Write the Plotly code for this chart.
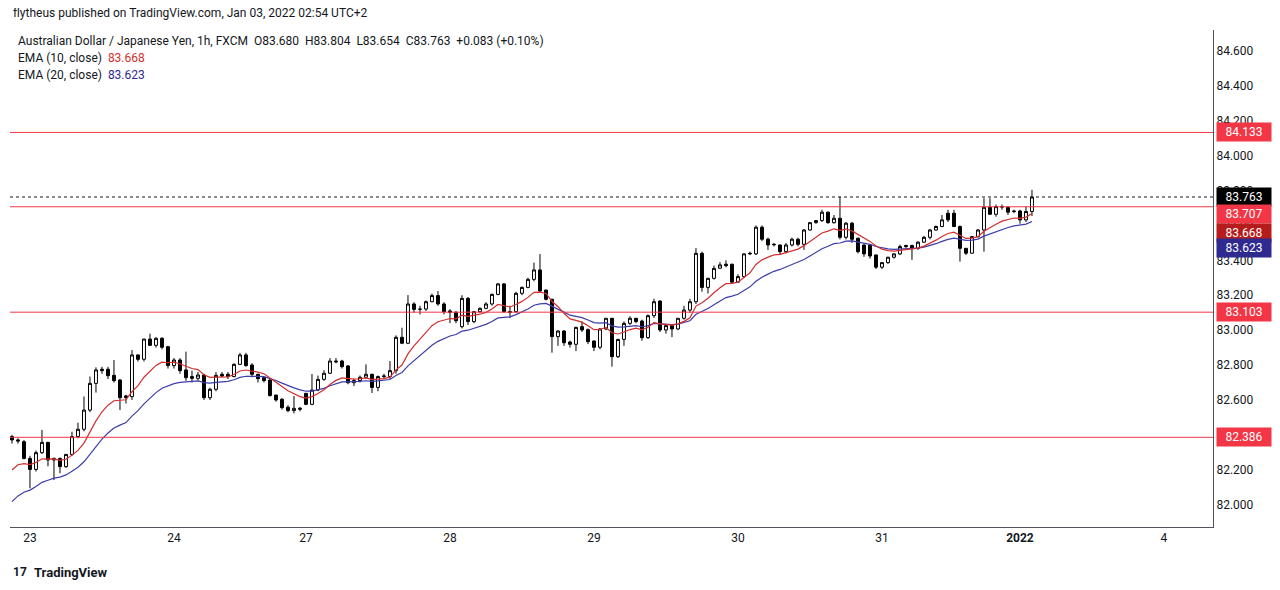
import plotly.graph_objects as go

opens = [82.390,82.371,82.361,82.265,82.202,82.298,82.357,82.256,82.265,82.218,82.288,82.390,82.432,82.542,82.695,82.776,82.776,82.741,82.714,82.623,
82.619,82.858,82.833,82.949,82.913,82.953,82.905,82.797,82.829,82.772,82.734,82.724,82.743,82.613,82.661,82.747,82.747,82.734,82.804,82.858,
82.800,82.747,82.728,82.714,82.628,82.604,82.558,82.539,82.546,82.638,82.575,82.657,82.718,82.753,82.823,82.823,82.795,82.699,82.711,82.730,
82.747,82.672,82.734,82.734,82.768,82.959,82.925,83.150,83.120,83.121,83.163,83.198,83.150,83.110,83.102,83.020,83.182,83.049,83.106,83.125,
83.150,83.205,83.265,83.106,83.106,83.211,83.245,83.291,83.345,83.230,83.177,82.963,82.995,82.932,82.919,83.020,83.003,82.938,82.902,83.007,
83.068,82.848,82.947,83.039,83.068,83.052,82.957,83.083,83.167,83.001,83.026,83.007,83.068,83.115,83.163,83.440,83.245,83.297,83.355,83.378,
83.378,83.275,83.307,83.437,83.437,83.590,83.521,83.492,83.488,83.450,83.488,83.521,83.492,83.574,83.616,83.628,83.676,83.616,83.641,83.532,
83.613,83.527,83.488,83.488,83.431,83.361,83.387,83.418,83.437,83.485,83.485,83.469,83.504,83.532,83.574,83.594,83.670,83.670,83.594,83.469,
83.441,83.536,83.574,83.704,83.664,83.708,83.704,83.683,83.683,83.632,83.680]
closes = [82.371,82.365,82.265,82.202,82.298,82.357,82.256,82.265,82.218,82.288,82.390,82.432,82.542,82.695,82.772,82.768,82.739,82.711,82.613,82.613,
82.858,82.833,82.949,82.913,82.953,82.902,82.797,82.829,82.768,82.728,82.724,82.743,82.613,82.661,82.741,82.737,82.734,82.804,82.858,82.797,
82.747,82.722,82.711,82.625,82.600,82.556,82.539,82.552,82.552,82.575,82.657,82.718,82.753,82.823,82.819,82.791,82.699,82.711,82.730,82.747,
82.672,82.734,82.737,82.768,82.959,82.925,83.150,83.119,83.120,83.163,83.198,83.150,83.106,83.102,83.054,83.182,83.049,83.106,83.125,83.150,
83.205,83.265,83.106,83.102,83.211,83.245,83.291,83.345,83.224,83.177,82.963,82.995,82.928,82.919,83.016,83.001,82.934,82.902,83.007,83.068,
82.848,82.947,83.039,83.068,83.049,82.957,83.083,83.163,83.001,83.026,83.007,83.068,83.115,83.163,83.440,83.245,83.297,83.354,83.374,83.370,
83.275,83.307,83.437,83.440,83.590,83.521,83.488,83.490,83.450,83.488,83.521,83.492,83.574,83.616,83.628,83.676,83.616,83.641,83.532,83.613,
83.521,83.450,83.437,83.425,83.361,83.387,83.418,83.437,83.479,83.479,83.469,83.504,83.532,83.574,83.594,83.632,83.632,83.594,83.469,83.441,
83.536,83.574,83.704,83.664,83.708,83.706,83.676,83.680,83.632,83.680,83.763]
highs = [82.40,82.38,82.37,82.28,82.31,82.428,82.36,82.27,82.27,82.29,82.418,82.47,82.62,82.734,82.787,82.79,82.79,82.829,82.72,82.63,
82.886,82.86,82.95,82.98,82.96,82.96,82.91,82.84,82.84,82.877,82.768,82.76,82.75,82.67,82.76,82.76,82.76,82.81,82.87,82.87,
82.81,82.75,82.73,82.72,82.63,82.61,82.57,82.623,82.56,82.64,82.749,82.74,82.77,82.84,82.84,82.83,82.80,82.72,82.74,82.804,
82.75,82.74,82.75,82.823,82.97,83.014,83.201,83.16,83.14,83.17,83.21,83.224,83.16,83.12,83.11,83.20,83.19,83.11,83.13,83.16,
83.21,83.27,83.27,83.14,83.22,83.25,83.30,83.387,83.436,83.23,83.18,83.00,83.00,82.94,83.02,83.05,83.01,82.94,83.01,83.07,
83.07,82.95,83.05,83.08,83.07,83.06,83.09,83.18,83.17,83.03,83.03,83.07,83.14,83.18,83.47,83.45,83.30,83.37,83.39,83.40,
83.38,83.32,83.44,83.45,83.60,83.60,83.53,83.50,83.49,83.50,83.53,83.53,83.58,83.62,83.63,83.69,83.68,83.66,83.765,83.62,
83.62,83.53,83.49,83.49,83.43,83.39,83.42,83.44,83.49,83.49,83.49,83.51,83.54,83.58,83.60,83.66,83.69,83.69,83.60,83.47,
83.54,83.58,83.756,83.756,83.72,83.72,83.71,83.69,83.69,83.71,83.804]
lows = [82.35,82.35,82.26,82.094,82.19,82.29,82.22,82.141,82.18,82.21,82.28,82.38,82.42,82.53,82.642,82.75,82.72,82.70,82.542,82.58,
82.60,82.82,82.82,82.91,82.90,82.89,82.78,82.78,82.75,82.71,82.70,82.71,82.60,82.60,82.65,82.73,82.72,82.73,82.80,82.79,
82.73,82.70,82.70,82.62,82.59,82.545,82.53,82.523,82.535,82.57,82.57,82.65,82.71,82.75,82.81,82.78,82.69,82.68,82.70,82.72,
82.64,82.65,82.72,82.72,82.75,82.92,82.92,83.10,83.09,83.11,83.16,83.14,83.09,83.04,83.04,83.01,83.03,83.04,83.10,83.12,
83.14,83.20,83.10,83.07,83.10,83.20,83.24,83.28,83.22,83.17,82.871,82.91,82.91,82.90,82.88,82.99,82.92,82.88,82.89,83.00,
82.791,82.84,82.91,83.03,83.04,82.94,82.95,83.07,82.99,82.98,82.96,83.00,83.06,83.10,83.15,83.22,83.21,83.29,83.35,83.36,
83.27,83.27,83.30,83.43,83.43,83.51,83.46,83.48,83.43,83.44,83.48,83.48,83.46,83.57,83.61,83.62,83.61,83.61,83.52,83.52,
83.50,83.44,83.42,83.41,83.35,83.35,83.38,83.41,83.43,83.47,83.403,83.46,83.50,83.52,83.57,83.59,83.62,83.59,83.393,83.43,
83.44,83.53,83.45,83.66,83.65,83.69,83.66,83.67,83.61,83.62,83.654]

ema10_seed = 82.16
ema20_seed = 81.98
levels = [84.133, 83.707, 83.103, 82.386]
last_price = 83.763
tick_vals = [82.0, 82.2, 82.4, 82.6, 82.8, 83.0, 83.2, 83.4, 83.6, 83.8, 84.0, 84.2, 84.4, 84.6]
x_tick_pos = [3, 27, 49, 73, 97, 121, 145, 168, 192]
x_tick_text = ["23", "24", "27", "28", "29", "30", "31", "<b>2022</b>", "4"]

def ema(vals, n, seed):
    k = 2 / (n + 1)
    out, e = [], seed
    for v in vals:
        e = v * k + e * (1 - k)
        out.append(e)
    return out

idx = list(range(len(closes)))
e10 = ema(closes, 10, ema10_seed)
e20 = ema(closes, 20, ema20_seed)

W, H, OFF = 1272, 582, 8
RED = "#f23645"
fig = go.Figure()
for lv in levels:
    fig.add_hline(y=lv, line=dict(color=RED, width=1))
fig.add_hline(y=last_price, line=dict(color="#131722", width=1, dash="dot"))
fig.add_trace(go.Scatter(x=idx, y=e20, mode="lines", line=dict(color="#3d3dab", width=1.2), hoverinfo="skip"))
fig.add_trace(go.Scatter(x=idx, y=e10, mode="lines", line=dict(color="#d32f2f", width=1.2), hoverinfo="skip"))
fig.add_trace(go.Candlestick(x=idx, open=opens, high=highs, low=lows, close=closes, whiskerwidth=0,
    increasing=dict(line=dict(color="#000000", width=1), fillcolor="#ffffff"),
    decreasing=dict(line=dict(color="#000000", width=1), fillcolor="#000000")))

F = "Roboto, sans-serif"
def lab(val, bg, ys=0):
    fig.add_annotation(x=1, xref="paper", xanchor="left", y=val, yref="y", yshift=ys,
        text=f"{val:.3f}", showarrow=False, bgcolor=bg, font=dict(color="white", size=12, family=F),
        borderpad=2, width=50, xshift=3)
lab(84.133, RED)
lab(last_price, "#000000")
lab(83.707, RED, -7)
lab(83.668, "#b71c1c", -19)
lab(83.623, "#2e2a8f", -27)
lab(83.103, RED)
lab(82.386, RED)

def txt(t, xpx, ypx, size=12):
    fig.add_annotation(x=(xpx - 10) / 1203, y=1 - (ypx - 30) / 497, xref="paper", yref="paper",
        xanchor="left", yanchor="middle", showarrow=False, text=t,
        font=dict(size=size, family=F, color="#131722"))
txt("flytheus published on TradingView.com, Jan 03, 2022 02:54 UTC+2", 11, 13)
txt("Australian Dollar / Japanese Yen, 1h, FXCM  O83.680  H83.804  L83.654  C83.763  +0.083 (+0.10%)", 16, 41)
txt("EMA (10, close)  <span style='color:#d32f2f'>83.668</span>", 16, 58)
txt("EMA (20, close)  <span style='color:#2e2a8f'>83.623</span>", 16, 75)
txt("<b>TradingView</b>", 32, 572, 13)
txt("<b>17</b>", 11, 572, 12)

fig.update_layout(width=W, height=H, margin=dict(l=10 - OFF, r=67, t=30 - OFF, b=63, autoexpand=False),
    paper_bgcolor="white", plot_bgcolor="white", showlegend=False, font=dict(family=F),
    xaxis=dict(range=[-0.33, 200.17], rangeslider=dict(visible=False), showgrid=False, zeroline=False,
        tickvals=x_tick_pos, ticktext=x_tick_text, ticks="", tickfont=dict(size=12, color="#131722"),
        showline=True, linecolor="#50535e", linewidth=1, automargin=False),
    yaxis=dict(range=[81.872, 84.720], side="right", showgrid=False, zeroline=False,
        tickvals=tick_vals, tickformat=".3f", ticks="", tickfont=dict(size=12, color="#131722"),
        showline=True, linecolor="#50535e", linewidth=1, automargin=False))
fig.write_html("out.html")
